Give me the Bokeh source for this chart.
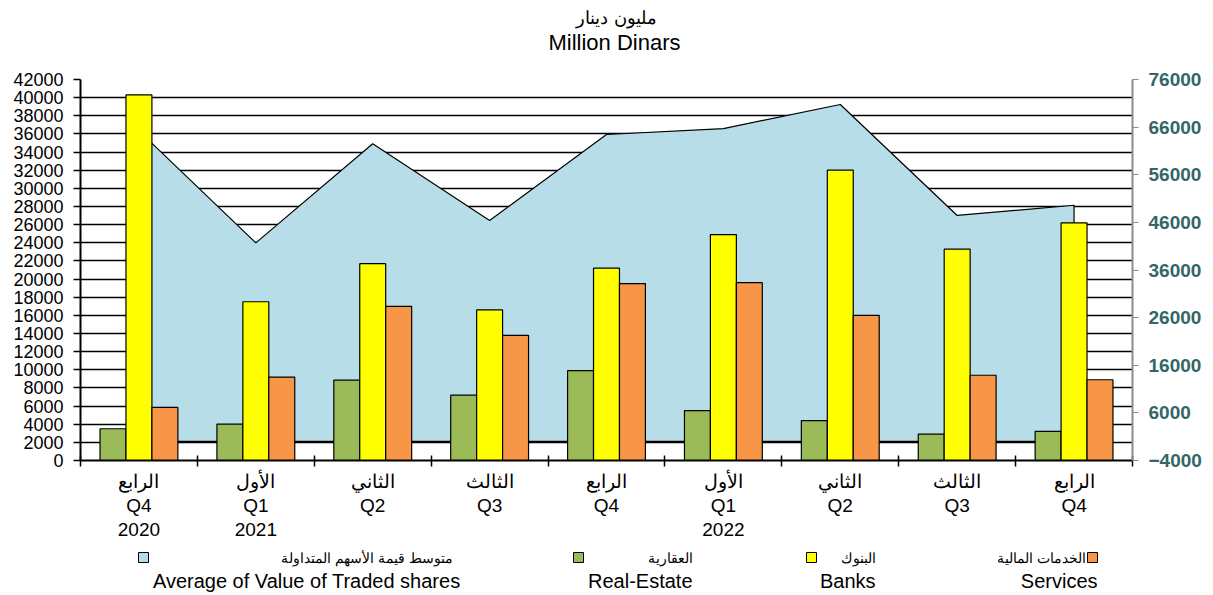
from bokeh.plotting import figure
from bokeh.layouts import column
from bokeh.models import Range1d, LinearAxis, FixedTicker
from bokeh.core.properties import value
from bokeh.embed import file_html
from bokeh.resources import INLINE

# ---------------- data ----------------
quarters_ar = ["الرابع", "الأول", "الثاني", "الثالث", "الرابع", "الأول", "الثاني", "الثالث", "الرابع"]
quarters_en = ["Q4", "Q1", "Q2", "Q3", "Q4", "Q1", "Q2", "Q3", "Q4"]
years = ["2020", "2021", "", "", "", "2022", "", "", ""]

real_estate = [3500, 4000, 8850, 7200, 9900, 5500, 4400, 2900, 3200]
banks = [40300, 17500, 21700, 16600, 21200, 24900, 32000, 23300, 26200]
services = [5850, 9200, 17000, 13800, 19500, 19600, 16000, 9400, 8900]
avg_traded = [65200, 41700, 62500, 46400, 64450, 65700, 70750, 47450, 49600]

series_ar = ["متوسط قيمة الأسهم المتداولة", "العقارية", "البنوك", "الخدمات المالية"]
series_en = ["Average of Value of Traded shares", "Real-Estate", "Banks", "Services"]
series_colors = ["#B7DDE8", "#9BBB59", "#FFFF00", "#F79646"]

left_ticks = list(range(0, 42001, 2000))
right_ticks = list(range(-4000, 76001, 10000))

title_ar = "مليون دينار"
title_en = "Million Dinars"

FONT = "Liberation Sans"
W = 1212
FL, FR = 80, 1132  # frame left / right in page pixels

# ---------------- title figure ----------------
TH = 70
t = figure(width=W, height=TH, x_range=Range1d(FL, FR), y_range=Range1d(0, TH),
           output_backend="svg", toolbar_location=None, min_border=0,
           min_border_left=FL, min_border_right=W - FR,
           x_axis_type=None, y_axis_type=None, outline_line_color=None)
t.grid.visible = False
t.text(x=[616], y=[TH - 17], text=[title_ar], text_align="center",
       text_baseline="middle", text_font=value(FONT), text_font_size="18px", text_color="black")
t.text(x=[614], y=[TH - 42], text=[title_en], text_align="center",
       text_baseline="middle", text_font=value(FONT), text_font_size="22px", text_color="black")

# ---------------- main figure ----------------
n = len(quarters_en)
centers = [i + 0.5 for i in range(n)]
bounds = list(range(n + 1))

p = figure(width=W, height=475, x_range=Range1d(0, n), y_range=Range1d(0, 42000),
           output_backend="svg", toolbar_location=None,
           min_border_left=FL, min_border_right=W - FR, min_border_top=9, min_border_bottom=85,
           outline_line_color=None)
p.extra_y_ranges = {"r": Range1d(-4000, 76000)}

p.xgrid.visible = False
p.ygrid.ticker = FixedTicker(ticks=left_ticks)
p.ygrid.grid_line_color = "black"
p.ygrid.grid_line_width = 1.7

# area (secondary axis)
area_x = [centers[0]] + centers + [centers[-1]]
area_y = [0] + avg_traded + [0]
p.patch(area_x, area_y, y_range_name="r", fill_color=series_colors[0],
        line_color="black", line_width=1.2)

bw = 0.222
for vals, col, off in [(real_estate, series_colors[1], -bw),
                       (banks, series_colors[2], 0.0),
                       (services, series_colors[3], bw)]:
    p.vbar(x=[c + off for c in centers], top=vals, bottom=0, width=bw,
           fill_color=col, line_color="black", line_width=1.2)

# left axis
ya = p.yaxis[0]
ya.ticker = FixedTicker(ticks=left_ticks)
ya.axis_line_color = "black"
ya.axis_line_width = 2
ya.major_tick_in = 0
ya.major_tick_out = 7
ya.major_tick_line_width = 1.5
ya.minor_tick_line_color = None
ya.major_label_text_font = FONT
ya.major_label_text_font_size = "18px"
ya.major_label_text_color = "black"
ya.major_label_standoff = 10

# right axis
ra = LinearAxis(y_range_name="r", ticker=FixedTicker(ticks=right_ticks))
ra.axis_line_color = "#8C8C8C"
ra.axis_line_width = 2
ra.major_tick_line_color = "#8C8C8C"
ra.major_tick_in = 0
ra.major_tick_out = 6
ra.minor_tick_line_color = None
ra.major_label_text_font = FONT
ra.major_label_text_font_size = "19px"
ra.major_label_text_font_style = "bold"
ra.major_label_text_color = "#336666"
ra.major_label_standoff = 10
p.add_layout(ra, "right")

# x axis
xa = p.xaxis[0]
xa.ticker = FixedTicker(ticks=centers, minor_ticks=bounds)
xa.major_label_overrides = {
    c: "\n".join([s for s in (a, q, y) if s])
    for c, a, q, y in zip(centers, quarters_ar, quarters_en, years)
}
xa.axis_line_color = "black"
xa.axis_line_width = 2
xa.major_tick_line_color = None
xa.minor_tick_in = 5
xa.minor_tick_out = 6
xa.minor_tick_line_width = 1.5
xa.minor_tick_line_color = "black"
xa.major_label_text_font = FONT
xa.major_label_text_font_size = "19px"
xa.major_label_text_color = "black"
xa.major_label_text_line_height = 1.15
xa.major_label_standoff = 4

# ---------------- legend figure ----------------
LH = 47
leg = figure(width=W, height=LH, x_range=Range1d(FL, FR), y_range=Range1d(0, LH),
             output_backend="svg", toolbar_location=None, min_border=0,
             min_border_left=FL, min_border_right=W - FR,
             x_axis_type=None, y_axis_type=None, outline_line_color=None)
leg.grid.visible = False
ar_right = [452, 692, 875, 1085]
en_right = [460, 692, 875, 1097]
square_x = [143, 578, 811, 1092]
row_ar = LH - 12
row_en = LH - 35
leg.rect(x=square_x, y=[row_ar] * 4, width=10, height=10, width_units="screen", height_units="screen",
         fill_color=series_colors, line_color="black", line_width=1)
leg.text(x=ar_right, y=[row_ar] * 4, text=series_ar, text_align="right", text_baseline="middle",
         text_font=value(FONT), text_font_size="14px", text_color="black")
leg.text(x=en_right, y=[row_en] * 4, text=series_en, text_align="right", text_baseline="middle",
         text_font=value(FONT), text_font_size="20px", text_color="black")

layout = column(t, p, leg, spacing=0)
open("out.html", "w").write(file_html(layout, INLINE))
